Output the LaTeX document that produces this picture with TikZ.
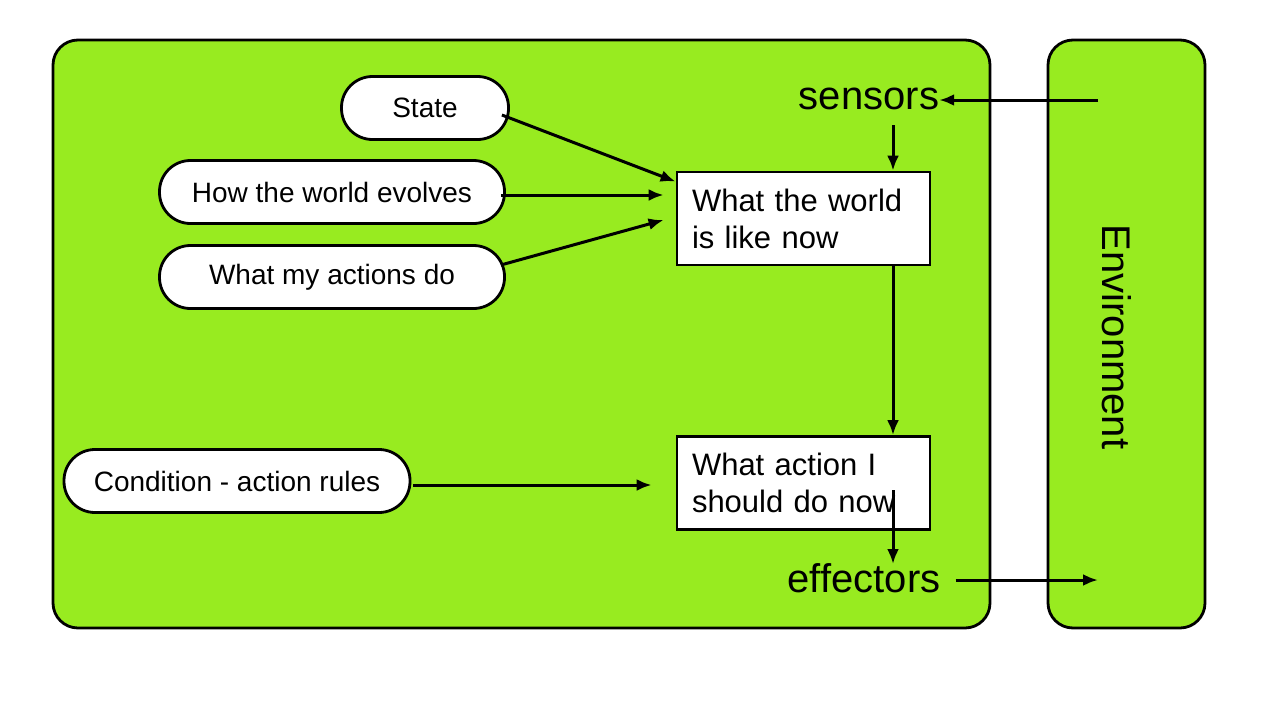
\documentclass[tikz,border=0pt]{standalone}
\usepackage{fontspec}
\setmainfont{Liberation Sans}
\usetikzlibrary{arrows.meta}
\definecolor{agentgreen}{RGB}{152,235,32}
\tikzset{
  panel/.style={draw=black, line width=2.8pt, fill=agentgreen, rounded corners=25pt},
  pill/.style={draw=black, line width=2.8pt, fill=white, rounded corners=31pt, minimum height=63pt, inner sep=0pt, font=\fontsize{28}{32}\selectfont},
  statebox/.style={draw=black, line width=2.8pt, fill=white, minimum height=93pt, text width=223pt, inner xsep=15pt, inner ysep=0pt, align=left, font=\fontsize{31}{37}\selectfont},
  biglabel/.style={inner sep=0pt, font=\fontsize{40}{44}\selectfont},
  arr/.style={line width=3pt, -{Latex[length=15pt,width=12pt]}}
}
\begin{document}
\begin{tikzpicture}[x=1pt,y=-1pt]
\useasboundingbox (0,0) rectangle (1262,702);
\draw[panel] (53,40) rectangle (990,628);
\draw[panel] (1048,40) rectangle (1205,628);

\node[pill, minimum width=167pt] (state) at (425,108) {State};
\node[pill, minimum width=345pt] (evolve) at (332,192) {How the world evolves};
\node[pill, minimum width=345pt] (actdo) at (332,277) {What my actions do};
\node[pill, minimum width=346pt] (rules) at (237,481) {Condition - action rules};

\node[statebox] (world) at (803.5,218.5) {What the world\\is like now};
\node[statebox] (action) at (803.5,483) {What action I\\should do now};

\node[biglabel] (sensors) at (869,99) {sensors};
\node[biglabel] (effectors) at (864,578) {effectors};
\node[biglabel, rotate=-90] (env) at (1117,337) {Environment};

\coordinate (envin) at (1098,100);
\coordinate (envout) at (1098,580);

\draw[arr] ([shift={(-8,7)}]state.east) -- ([shift={(0,11)}]world.north west);
\draw[arr] ([shift={(-5,3)}]evolve.east) -- ([shift={(-12,-23.5)}]world.west);
\draw[arr] ([shift={(-5,-12)}]actdo.east) -- ([shift={(-12,1.5)}]world.west);
\draw[arr] ([shift={(2,4)}]rules.east) -- ([shift={(-24,2)}]action.west);

\draw[arr] (envin) -- (sensors.east |- envin);
\draw[arr] ([xshift=24]sensors.south |- 0,125) -- ([xshift=89.5]world.north);
\draw[arr] ([xshift=89.5]world.south) -- ([xshift=89.5]action.north);
\draw[arr] ([shift={(89.5,7)}]action.center) -- ([xshift=89.5]action.center |- 0,564);
\draw[arr] ([xshift=15]effectors.east |- envout) -- (envout);
\end{tikzpicture}
\end{document}
